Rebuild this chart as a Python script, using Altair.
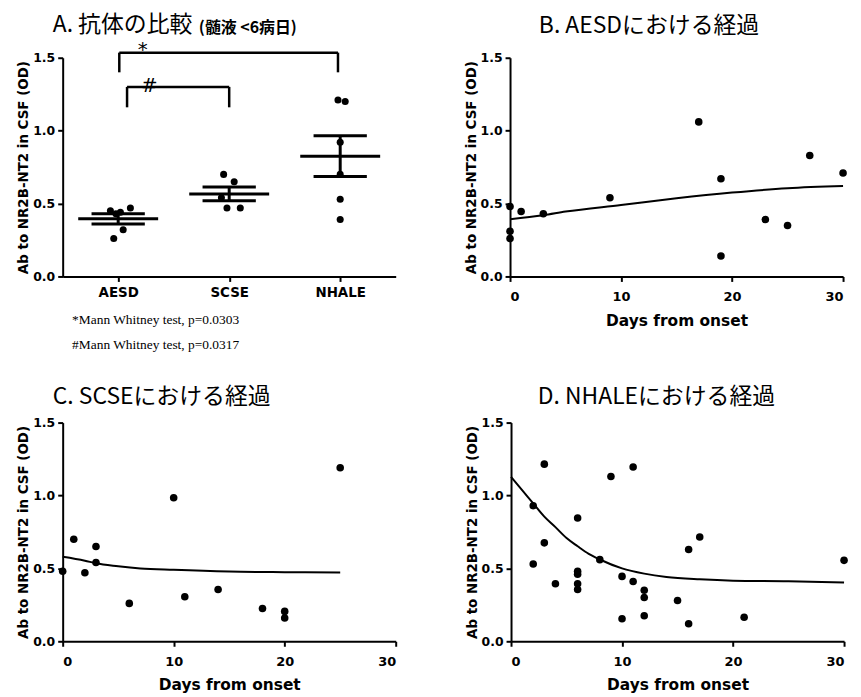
import altair as alt
import pandas as pd

# ---------------- data ----------------
groups = ["AESD", "SCSE", "NHALE"]
aesd_od = [0.45, 0.47, 0.44, 0.43, 0.32, 0.26]
aesd_jit = [-0.07, 0.11, 0.02, -0.02, 0.045, -0.04]
scse_od = [0.70, 0.65, 0.54, 0.47, 0.47]
scse_jit = [-0.05, 0.045, -0.07, -0.02, 0.10]
nhale_od = [1.21, 1.20, 0.92, 0.70, 0.53, 0.39]
nhale_jit = [-0.02, 0.045, 0.0, 0.0, 0.0, 0.0]

# significance brackets: left group pos, right group pos, top, bottom, symbol
br_x1 = [0.01, 0.08]
br_x2 = [1.98, 1.0]
br_top = [1.535, 1.30]
br_bot = [1.40, 1.16]
br_sym = ["*", "#"]
br_sym_x = [0.22, 0.28]
br_sym_y = [1.555, 1.305]

titleA = "A. 抗体の比較"
subtitleA = "(髄液 <6病日)"
notes = ["*Mann Whitney test, p=0.0303", "#Mann Whitney test, p=0.0317"]

aesd_day = [0, 0, 0, 1, 3, 9, 17, 19, 19, 23, 25, 27, 30]
aesd_val = [0.48, 0.31, 0.26, 0.445, 0.43, 0.54, 1.06, 0.67, 0.14, 0.39, 0.35, 0.83, 0.71]
aesd_fit_day = [0, 3, 5, 10, 15, 20, 25, 30]
aesd_fit_val = [0.393, 0.42, 0.445, 0.49, 0.536, 0.575, 0.605, 0.62]

scse_day = [0, 1, 2, 3, 3, 6, 10, 11, 14, 18, 20, 20, 25]
scse_val = [0.48, 0.70, 0.47, 0.65, 0.54, 0.26, 0.985, 0.305, 0.355, 0.225, 0.205, 0.16, 1.19]
scse_fit_day = [0, 2, 3, 5, 7, 10, 15, 20, 25]
scse_fit_val = [0.58, 0.553, 0.535, 0.515, 0.50, 0.49, 0.478, 0.474, 0.472]

nhale_day = [2, 2, 3, 3, 4, 6, 6, 6, 6, 6, 8, 9, 10, 10, 11, 11, 12, 12, 12, 15, 16, 16, 17, 21, 30]
nhale_val = [0.93, 0.53, 1.215, 0.675, 0.395, 0.845, 0.48, 0.46, 0.395, 0.355, 0.56, 1.13, 0.445,
             0.155, 1.195, 0.41, 0.35, 0.30, 0.175, 0.28, 0.63, 0.12, 0.715, 0.165, 0.555]
nhale_fit_day = [0, 1, 2, 3, 4, 5, 6, 7, 8, 10, 12, 14, 17, 20, 25, 30]
nhale_fit_val = [1.127, 1.036, 0.946, 0.855, 0.783, 0.708, 0.652, 0.60, 0.561, 0.50, 0.464,
                 0.441, 0.425, 0.416, 0.412, 0.403]

# ---------------- styles ----------------
AX_FONT = "DejaVu Sans"
TITLE_FONT = "Noto Sans CJK JP"
W, H = 335, 220
YTITLE = "Ab to NR2B-NT2 in CSF (OD)"


def y_axis():
    return alt.Axis(values=[0, 0.5, 1.0, 1.5], format=".1f", title=YTITLE,
                    titleFontSize=13.5, titlePadding=2, labelFontSize=12.5, labelPadding=3)


def panel_title(text, dx, offset):
    return alt.TitleParams(text, font=TITLE_FONT, fontSize=23, fontWeight="normal",
                           anchor="start", frame="group", dx=dx, offset=offset, color="black")


# ---------------- panel A ----------------
pts = []
for g_i, (vals, jit) in enumerate([(aesd_od, aesd_jit), (scse_od, scse_jit), (nhale_od, nhale_jit)]):
    for v, j in zip(vals, jit):
        pts.append({"g": groups[g_i], "gi": g_i, "pos": g_i + j, "od": v})
dfA = pd.DataFrame(pts)

xA = alt.X("pos:Q", scale=alt.Scale(domain=[-0.5, 2.5], nice=False),
           axis=alt.Axis(values=[0, 1, 2], labelExpr="['AESD','SCSE','NHALE'][datum.value]",
                         labelFontSize=13.5, labelPadding=4,
                         title=notes, titleFont="Liberation Serif", titleFontWeight="normal",
                         titleFontSize=13.5, titleAnchor="start", titleAlign="left",
                         titleX=9, titleY=36, titleLineHeight=25, titleBaseline="top"))
yA = alt.Y("od:Q", scale=alt.Scale(domain=[0, 1.5], nice=False), axis=y_axis())

A_pts = alt.Chart(dfA).mark_circle(size=50, color="black", opacity=1).encode(x=xA, y=yA)

stats = alt.Chart(dfA).transform_aggregate(
    m="mean(od)", se="stderr(od)", groupby=["g", "gi"]
).transform_calculate(
    lo="datum.m - datum.se", hi="datum.m + datum.se",
    ml="datum.gi - 0.36", mr="datum.gi + 0.36",
    cl="datum.gi - 0.24", cr="datum.gi + 0.24",
)
A_mean = stats.mark_rule(color="black", strokeWidth=3).encode(x="ml:Q", x2="mr:Q", y="m:Q")
A_hi = stats.mark_rule(color="black", strokeWidth=3).encode(x="cl:Q", x2="cr:Q", y="hi:Q")
A_lo = stats.mark_rule(color="black", strokeWidth=3).encode(x="cl:Q", x2="cr:Q", y="lo:Q")
A_v = stats.mark_rule(color="black", strokeWidth=3).encode(x="gi:Q", y="lo:Q", y2="hi:Q")

segs = []
for x1, x2, t, b in zip(br_x1, br_x2, br_top, br_bot):
    segs.append({"x": x1, "x2": x2, "y": t, "y2": t})
    segs.append({"x": x1, "x2": x1, "y": b, "y2": t})
    segs.append({"x": x2, "x2": x2, "y": b, "y2": t})
dfSeg = pd.DataFrame(segs)
A_br = alt.Chart(dfSeg).mark_rule(color="black", strokeWidth=2.5, clip=False).encode(
    x="x:Q", x2="x2:Q", y="y:Q", y2="y2:Q")
dfSym = pd.DataFrame({"x": br_sym_x, "y": br_sym_y, "s": br_sym})
A_sym = alt.Chart(dfSym).mark_text(fontSize=20, font="DejaVu Sans", color="black",
                                   baseline="middle", clip=False).encode(x="x:Q", y="y:Q", text="s:N")
A_title = alt.Chart(pd.DataFrame({"t": [titleA]})).mark_text(
    font=TITLE_FONT, fontSize=23, align="left", baseline="middle", color="black"
).encode(x=alt.value(-10), y=alt.value(-33), text="t:N")
A_sub = alt.Chart(pd.DataFrame({"t": [subtitleA]})).mark_text(
    font=TITLE_FONT, fontSize=16, fontWeight="bold", align="left", baseline="middle", color="black"
).encode(x=alt.value(137), y=alt.value(-30), text="t:N")

panelA = alt.layer(A_pts, A_mean, A_hi, A_lo, A_v, A_br, A_sym, A_title, A_sub).properties(
    width=W, height=H)


# ---------------- panels B, C, D ----------------
def course(days, vals, fdays, fvals, title, dx, offset):
    d = pd.DataFrame({"day": days, "od": vals})
    f = pd.DataFrame({"day": fdays, "od": fvals})
    x = alt.X("day:Q", scale=alt.Scale(domain=[0, 30], nice=False),
              axis=alt.Axis(values=[0, 10, 20, 30], title="Days from onset",
                            titleFontSize=15.5, labelFontSize=13, labelPadding=9, titlePadding=10))
    y = alt.Y("od:Q", scale=alt.Scale(domain=[0, 1.5], nice=False), axis=y_axis())
    p = alt.Chart(d).mark_circle(size=58, color="black", opacity=1).encode(x=x, y=y)
    l = alt.Chart(f).mark_line(color="black", strokeWidth=2, interpolate="monotone").encode(x=x, y=y)
    return alt.layer(l, p).properties(width=W, height=H, title=panel_title(title, dx, offset))


panelB = course(aesd_day, aesd_val, aesd_fit_day, aesd_fit_val, "B. AESDにおける経過", 29, 14)
panelC = course(scse_day, scse_val, scse_fit_day, scse_fit_val, "C. SCSEにおける経過", -10, 8)
panelD = course(nhale_day, nhale_val, nhale_fit_day, nhale_fit_val, "D. NHALEにおける経過", 27, 8)

chart = alt.vconcat(
    alt.hconcat(panelA, panelB, spacing=68),
    alt.hconcat(panelC, panelD, spacing=68),
    spacing=35,
).properties(
    padding={"left": 8, "top": 4, "right": 5, "bottom": 0},
    background="white",
).configure_view(stroke=None).configure_axis(
    labelFont=AX_FONT, labelFontWeight="bold", labelColor="black",
    titleFont=AX_FONT, titleFontWeight="bold", titleColor="black",
    domainColor="black", domainWidth=2, tickColor="black", tickWidth=2, tickSize=5,
    grid=False,
)

chart.save("out.html", embed_options={"renderer": "svg", "actions": False})
